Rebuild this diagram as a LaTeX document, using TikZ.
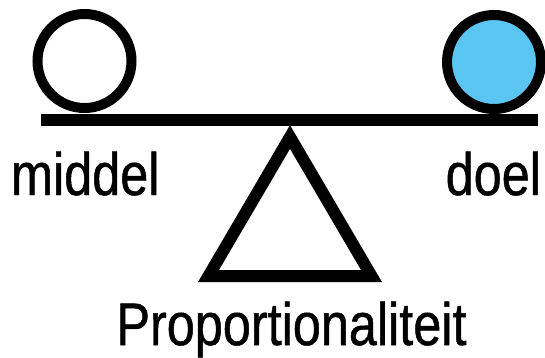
\documentclass[tikz,border=0pt]{standalone}
\usepackage{fontspec}
\newfontfamily\condfont{Liberation Sans}[FakeStretch=0.84, FakeBold=0.8]
\definecolor{ballblue}{HTML}{5BC5F2}
\tikzset{
  lbl/.style={inner sep=0pt, outer sep=0pt, font=\condfont\fontsize{60}{66}\selectfont},
  ring/.style={draw=black, line width=10pt},
  beam/.style={fill=black, draw=none},
  fulcrum/.style={draw=black, line width=12pt, line join=miter}
}
\begin{document}
\begin{tikzpicture}[x=1pt,y=-1pt]
\useasboundingbox (0,0) rectangle (545,357);
% fulcrum
\draw[fulcrum] (208.5,276) -- (290,137) -- (371.5,276) -- cycle;
% beam
\fill[beam] (41,114) rectangle (538,126);
% circles
\draw[ring, fill=white] (84.5,61) circle[radius=47pt];
\draw[ring, fill=ballblue] (494,62) circle[radius=47pt];
% labels
\node[lbl, anchor=base west] (middel) at (11,195) {middel};
\node[lbl, anchor=base east] (doel) at (541,195) {doel};
\node[lbl, anchor=base] (prop) at (291.5,345) {Proportionaliteit};
\end{tikzpicture}
\end{document}
